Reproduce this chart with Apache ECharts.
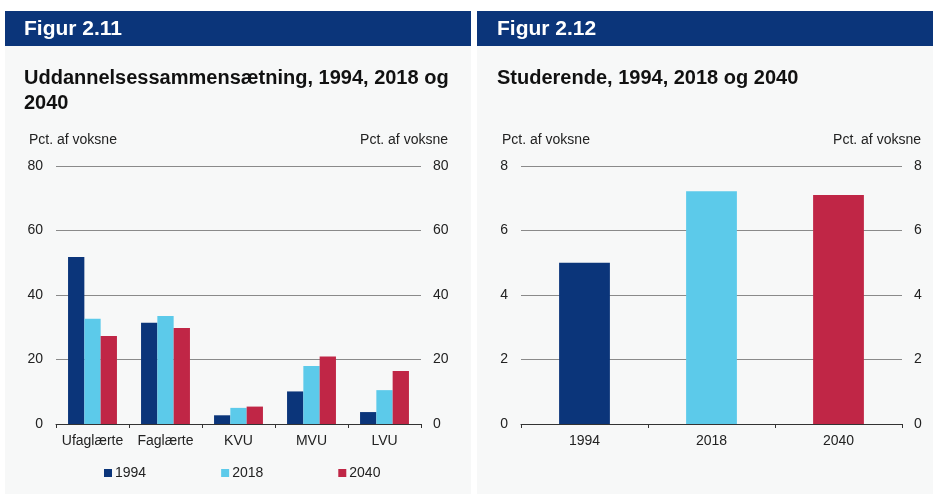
<!DOCTYPE html>
<html lang="da">
<head>
    <meta charset="UTF-8">
    <title>Figur 2.11 og 2.12</title>
    <script src="https://cdn.jsdelivr.net/npm/echarts@6/dist/echarts.min.js"></script>
    <style type="text/css">
        html, body {
            margin: 0;
            padding: 0;
            background: #ffffff;
        }

        #main {
            width: 933px;
            height: 494px;
        }
    </style>
</head>
<body>
<div id="main"></div>
<script>
    // figur 2.11 - uddannelsessammensaetning
    const categories_211 = ['Ufaglærte', 'Faglærte', 'KVU', 'MVU', 'LVU'];
    const data_1994 = [51.8, 31.4, 2.7, 10.1, 3.7];
    const data_2018 = [32.6, 33.5, 5.0, 18.0, 10.5];
    const data_2040 = [27.3, 29.8, 5.4, 20.9, 16.4];
    const ticks_211 = [0, 20, 40, 60, 80];

    // figur 2.12 - studerende
    const years_212 = ['1994', '2018', '2040'];
    const studerende = [5.0, 7.22, 7.1];
    const ticks_212 = [0, 2, 4, 6, 8];

    const DARK = '#0b357a';
    const LIGHT = '#5ccaea';
    const RED = '#c02646';
    const BAR_COLORS = [DARK, LIGHT, RED];
    const FONT = '"Liberation Sans", Arial, sans-serif';

    function txt(x, y, text, font, fill, align) {
        return {
            type: 'text',
            x: x,
            y: y,
            silent: true,
            style: {
                text: text,
                font: font,
                fill: fill,
                textAlign: align || 'left',
                align: align || 'left',
                textVerticalAlign: 'middle',
                verticalAlign: 'middle'
            }
        };
    }

    function yAxisDef(grid, ticks, pos, split, margin) {
        return {
            type: 'value',
            gridIndex: grid,
            position: pos,
            min: ticks[0],
            max: ticks[ticks.length - 1],
            interval: ticks[1] - ticks[0],
            axisLine: {show: false},
            axisTick: {show: false},
            axisLabel: {color: '#222', fontSize: 14, fontFamily: FONT, margin: margin},
            splitLine: {show: split, lineStyle: {color: '#8a8a8a', width: 1}}
        };
    }

    function xAxisDef(grid, cats) {
        return {
            type: 'category',
            gridIndex: grid,
            data: cats,
            axisLine: {lineStyle: {color: '#333', width: 1}},
            axisTick: {show: true, length: 4, lineStyle: {color: '#333'}},
            axisLabel: {color: '#222', fontSize: 14, fontFamily: FONT, margin: 10, interval: 0}
        };
    }

    var myChart = echarts.init(document.getElementById('main'), null, {renderer: 'canvas'});

    var option = {
        backgroundColor: '#ffffff',
        animation: false,
        textStyle: {fontFamily: FONT},
        graphic: [
            // panel backgrounds and header bars
            {type: 'rect', z: -10, silent: true, shape: {x: 5, y: 46, width: 466, height: 448}, style: {fill: '#f7f8f8'}},
            {type: 'rect', z: -10, silent: true, shape: {x: 477, y: 46, width: 456, height: 448}, style: {fill: '#f7f8f8'}},
            {type: 'rect', z: -10, silent: true, shape: {x: 5, y: 11, width: 466, height: 35}, style: {fill: DARK}},
            {type: 'rect', z: -10, silent: true, shape: {x: 477, y: 11, width: 456, height: 35}, style: {fill: DARK}},
            txt(24, 29, 'Figur 2.11', 'bold 21px ' + FONT, '#ffffff'),
            txt(497, 29, 'Figur 2.12', 'bold 21px ' + FONT, '#ffffff'),
            txt(24, 78, 'Uddannelsessammensætning, 1994, 2018 og', 'bold 20px ' + FONT, '#111'),
            txt(24, 103.5, '2040', 'bold 20px ' + FONT, '#111'),
            txt(497, 78, 'Studerende, 1994, 2018 og 2040', 'bold 20px ' + FONT, '#111'),
            txt(29, 140, 'Pct. af voksne', '14px ' + FONT, '#222'),
            txt(448, 140, 'Pct. af voksne', '14px ' + FONT, '#222', 'right'),
            txt(502, 140, 'Pct. af voksne', '14px ' + FONT, '#222'),
            txt(921, 140, 'Pct. af voksne', '14px ' + FONT, '#222', 'right')
        ],
        legend: {
            data: ['1994', '2018', '2040'],
            left: 104,
            top: 466,
            padding: 0,
            icon: 'rect',
            itemWidth: 8,
            itemHeight: 8,
            itemGap: 75,
            textStyle: {color: '#222', fontSize: 14, fontFamily: FONT, padding: [0, 0, 0, -2]}
        },
        grid: [
            {left: 56, right: 512, top: 166, bottom: 70},
            {left: 521, right: 31, top: 166, bottom: 70}
        ],
        xAxis: [
            xAxisDef(0, categories_211),
            xAxisDef(1, years_212)
        ],
        yAxis: [
            yAxisDef(0, ticks_211, 'left', true, 13),
            yAxisDef(0, ticks_211, 'right', false, 12),
            yAxisDef(1, ticks_212, 'left', true, 13),
            yAxisDef(1, ticks_212, 'right', false, 12)
        ],
        series: [
            {
                name: '1994', type: 'bar', xAxisIndex: 0, yAxisIndex: 0,
                data: data_1994, itemStyle: {color: DARK},
                barGap: '0%', barCategoryGap: '33%'
            },
            {
                name: '2018', type: 'bar', xAxisIndex: 0, yAxisIndex: 0,
                data: data_2018, itemStyle: {color: LIGHT},
                barGap: '0%', barCategoryGap: '33%'
            },
            {
                name: '2040', type: 'bar', xAxisIndex: 0, yAxisIndex: 0,
                data: data_2040, itemStyle: {color: RED},
                barGap: '0%', barCategoryGap: '33%'
            },
            {
                name: 'Studerende', type: 'bar', xAxisIndex: 1, yAxisIndex: 2,
                barCategoryGap: '60%',
                data: studerende.map(function (v, i) {
                    return {value: v, itemStyle: {color: BAR_COLORS[i]}};
                })
            }
        ]
    };

    myChart.setOption(option);
</script>
</body>
</html>
